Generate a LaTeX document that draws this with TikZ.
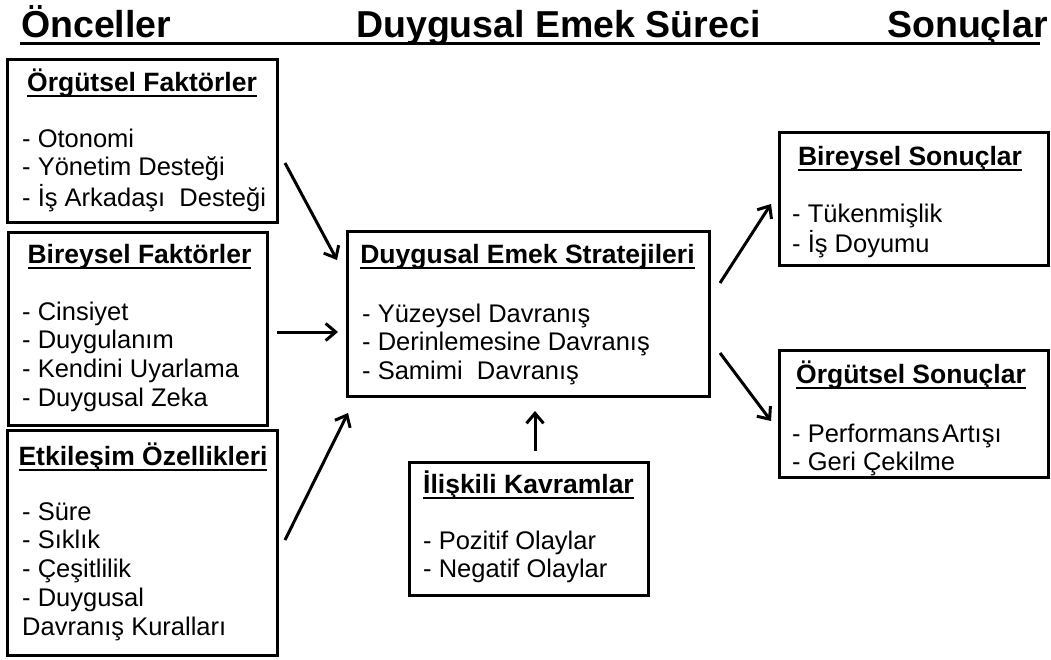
\documentclass[tikz,border=0pt]{standalone}
\usepackage{fontspec}
\setmainfont{Liberation Sans}
\usetikzlibrary{arrows.meta}

% type sizes (1pt = one unit of the drawing)
\newcommand\headfont{\fontsize{37.5}{42}\selectfont\bfseries}
\newcommand\ttlfont{\fontsize{26.5}{30}\selectfont\bfseries}
\newcommand\itemfont{\fontsize{25.5}{28.8}\selectfont}
% underlined box title
\newcommand\ulttl[1]{\setbox0\hbox{#1}\rlap{\rule[-6pt]{\wd0}{2pt}}\box0}
% left-aligned list whose baseline is that of its first line
\newcommand\itemlist[1]{\begin{tabular}[t]{@{}l@{}}#1\end{tabular}}

\tikzset{
  box/.style={draw, line width=3pt, rectangle, inner sep=0pt},
  ttl/.style={anchor=base, inner sep=0pt, font=\ttlfont},
  itm/.style={anchor=base west, inner sep=0pt, font=\itemfont},
  head/.style={anchor=base west, inner sep=0pt, font=\headfont},
  conn/.style={line width=3pt, -{Straight Barb[length=10pt,width=17pt]}},
}

\begin{document}
\begin{tikzpicture}[x=1pt, y=-1pt]
\fill[white] (0,0) rectangle (1051,659);
\useasboundingbox (0,0) rectangle (1051,659);

% column headings
\node[head] (hA) at (21,37) {Önceller};
\node[head] (hB) at (356,37) {Duygusal Emek Süreci};
\node[head] (hC) at (887,37) {Sonuçlar};
\coordinate (hL) at (20,43);
\coordinate (hR) at (1040,43);
\draw[line width=3pt] (hL) -- (hR);

% antecedents
\node[box, minimum width=270pt, minimum height=163pt] (org) at (142,140.5) {};
\node[ttl] (orgT) at (142,91) {\ulttl{Örgütsel Faktörler}};
\node[itm] (orgL) at (22,147) {\itemlist{- Otonomi\\- Yönetim Desteği\\- İş Arkadaşı~ Desteği}};

\node[box, minimum width=259pt, minimum height=193pt] (bir) at (137.5,328.5) {};
\node[ttl] (birT) at (139.5,263) {\ulttl{Bireysel Faktörler}};
\node[itm] (birL) at (22,320) {\itemlist{- Cinsiyet\\- Duygulanım\\- Kendini Uyarlama\\- Duygusal Zeka}};

\node[box, minimum width=270pt, minimum height=225pt] (etk) at (142,542.5) {};
\node[ttl] (etkT) at (143,465) {\ulttl{Etkileşim Özellikleri}};
\node[itm] (etkL) at (22,520) {\itemlist{- Süre\\- Sıklık\\- Çeşitlilik\\- Duygusal\\Davranış Kuralları}};

% process
\node[box, minimum width=362pt, minimum height=165pt] (str) at (528,313.5) {};
\node[ttl] (strT) at (527.5,263) {\ulttl{Duygusal Emek Stratejileri}};
\node[itm] (strL) at (362,322) {\itemlist{- Yüzeysel Davranış\\- Derinlemesine Davranış\\- Samimi~ Davranış}};

\node[box, minimum width=239pt, minimum height=133pt] (ili) at (528.5,528.5) {};
\node[ttl] (iliT) at (528.5,493) {\ulttl{İlişkili Kavramlar}};
\node[itm] (iliL) at (423,549) {\itemlist{- Pozitif Olaylar\\- Negatif Olaylar}};

% outcomes
\node[box, minimum width=269pt, minimum height=133pt] (bso) at (913.5,198.5) {};
\node[ttl] (bsoT) at (910,165) {\ulttl{Bireysel Sonuçlar}};
\node[itm] (bsoL) at (792,222) {\itemlist{- Tükenmişlik\\- İş Doyumu}};

\node[box, minimum width=269pt, minimum height=127pt] (oso) at (913.5,413.5) {};
\node[ttl] (osoT) at (911,383) {\ulttl{Örgütsel Sonuçlar}};
\node[itm] (osoL) at (792,442) {\itemlist{- Performans\hspace{0.1em}Artışı\\- Geri Çekilme}};

% arrow end points
\coordinate (a1s) at (285,163);  \coordinate (a1e) at (337,260);
\coordinate (a2s) at (277,332);  \coordinate (a2e) at (338,332);
\coordinate (a3s) at (285,540);  \coordinate (a3e) at (348,413);
\coordinate (a4s) at (535,451);  \coordinate (a4e) at (535,411);
\coordinate (a5s) at (720,283);  \coordinate (a5e) at (771,204);
\coordinate (a6s) at (720,353);  \coordinate (a6e) at (771,421);

\draw[conn] (a1s) -- (a1e);
\draw[conn] (a2s) -- (a2e);
\draw[conn] (a3s) -- (a3e);
\draw[conn] (a4s) -- (a4e);
\draw[conn] (a5s) -- (a5e);
\draw[conn] (a6s) -- (a6e);
\end{tikzpicture}
\end{document}
